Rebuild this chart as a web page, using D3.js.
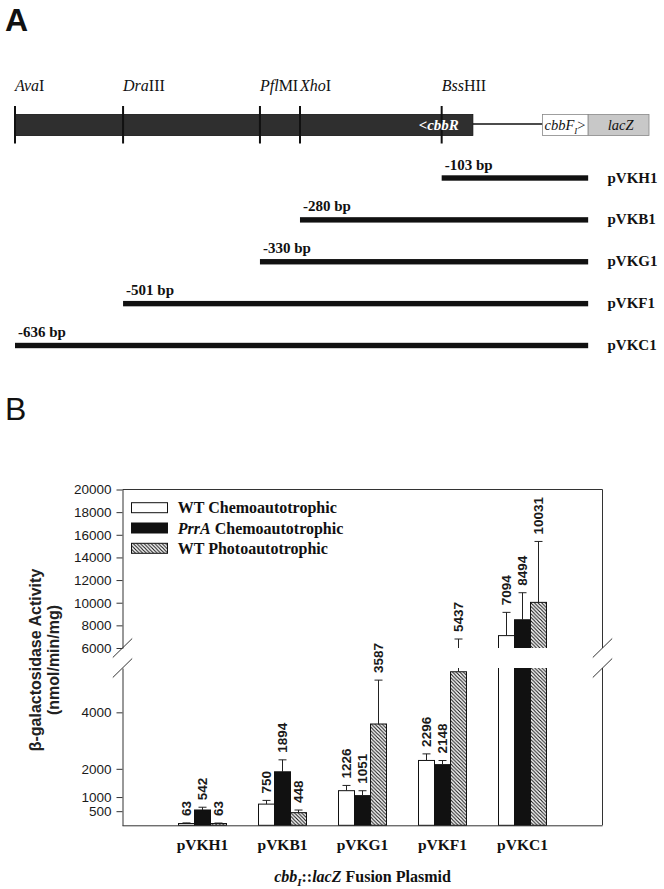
<!DOCTYPE html>
<html><head><meta charset="utf-8">
<script src="https://cdn.jsdelivr.net/npm/d3@7"></script>
<style>body{margin:0;background:#fff} svg{display:block}</style>
</head><body>
<svg id="c" width="664" height="889"></svg>
<script>
// ---------------- DATA ----------------
// Panel A: restriction map (positions in bp relative to cbbF start)
const siteItalic = ["Ava", "Dra", "Pfl", "Xho", "Bss"];
const siteRoman  = ["I", "III", "MI", "I", "HII"];
const siteBp     = [-636, -501, -330, -280, -103];
const fragNames  = ["pVKH1", "pVKB1", "pVKG1", "pVKF1", "pVKC1"];
const fragStart  = [-103, -280, -330, -501, -636];
const fragEnd    = 80;
const cbbRSpan   = [-636, -64];
const cbbFSpan   = [23, 80];
const lacZSpan   = [80, 156];

// Panel B: beta-galactosidase activity
const plasmids   = ["pVKH1", "pVKB1", "pVKG1", "pVKF1", "pVKC1"];
const seriesKeys = ["wt", "prrA", "photo"];
const wtChemo    = [63, 750, 1226, 2296, 7094];
const prrAChemo  = [542, 1894, 1051, 2148, 8494];
const wtPhoto    = [63, 448, 3587, 5437, 10031];
// upper end of the error bars
const wtChemoErr   = [85, 882, 1412, 2529, 9147];
const prrAChemoErr = [640, 2318, 1224, 2294, 10882];
const wtPhotoErr   = [80, 541, 5141, 6794, 15412];
const lowerTicks = [500, 1000, 2000, 4000];
const upperTicks = [6000, 8000, 10000, 12000, 14000, 16000, 18000, 20000];
const lowerDomain = [0, 5570];
const upperDomain = [6000, 20000];

// ---------------- DRAW ----------------
const svg = d3.select("#c");
const SERIF = "'Liberation Serif','Times New Roman',serif";
const SANS = "'Liberation Sans',Arial,sans-serif";
const INK = "#111";

// hatch pattern
const defs = svg.append("defs");
const pat = defs.append("pattern").attr("id", "hatch").attr("patternUnits", "userSpaceOnUse")
  .attr("width", 3.6).attr("height", 3.6);
pat.append("rect").attr("width", 3.6).attr("height", 3.6).attr("fill", "#fff");
pat.append("path").attr("d", "M-1,-1 L4.6,4.6 M-1,2.6 L1,4.6 M2.6,-1 L4.6,1")
  .attr("stroke", "#111").attr("stroke-width", 1.1);

// ===== Panel A =====
svg.append("text").attr("x", 5).attr("y", 31).attr("font-family", SANS).attr("font-weight", "bold")
  .attr("font-size", 32).attr("fill", INK).text("A");

const mx = d3.scaleLinear().domain([-636, 156]).range([15, 649]);
const barTop = 114.5, barBot = 135.5, barMid = (barTop + barBot) / 2;

// cbbR dark bar
svg.append("rect").attr("x", mx(cbbRSpan[0])).attr("y", barTop)
  .attr("width", mx(cbbRSpan[1]) - mx(cbbRSpan[0])).attr("height", barBot - barTop)
  .attr("fill", "#2f2f2f").attr("stroke", "#111").attr("stroke-width", 0.8);
// connecting line
svg.append("line").attr("x1", mx(cbbRSpan[1])).attr("x2", mx(cbbFSpan[0]))
  .attr("y1", barMid - 1).attr("y2", barMid - 1).attr("stroke", INK).attr("stroke-width", 1.6);
// cbbF and lacZ boxes
svg.append("rect").attr("x", mx(cbbFSpan[0])).attr("y", barTop)
  .attr("width", mx(cbbFSpan[1]) - mx(cbbFSpan[0])).attr("height", barBot - barTop)
  .attr("fill", "#fff").attr("stroke", "#888").attr("stroke-width", 0.8);
svg.append("rect").attr("x", mx(lacZSpan[0])).attr("y", barTop)
  .attr("width", mx(lacZSpan[1]) - mx(lacZSpan[0])).attr("height", barBot - barTop)
  .attr("fill", "#c8c8c8").attr("stroke", "#888").attr("stroke-width", 0.8);

// ticks & site labels
siteBp.forEach((bp, i) => {
  svg.append("line").attr("x1", mx(bp)).attr("x2", mx(bp)).attr("y1", 106).attr("y2", 143.5)
    .attr("stroke", INK).attr("stroke-width", 2);
  const t = svg.append("text").attr("x", mx(bp)).attr("y", 90.5).attr("font-family", SERIF)
    .attr("font-size", 16).attr("fill", INK);
  t.append("tspan").attr("font-style", "italic").text(siteItalic[i]);
  t.append("tspan").text(siteRoman[i]);
});

// gene labels
svg.append("text").attr("x", mx(cbbRSpan[1]) - 14).attr("y", 130).attr("text-anchor", "end")
  .attr("font-family", SERIF).attr("font-size", 15).attr("font-style", "italic").attr("font-weight", "bold")
  .attr("fill", "#fff").text("<cbbR");
const tf = svg.append("text").attr("x", mx(cbbFSpan[0]) + 2).attr("y", 130)
  .attr("font-family", SERIF).attr("font-size", 14.5).attr("fill", INK);
tf.append("tspan").attr("font-style", "italic").text("cbbF");
tf.append("tspan").attr("font-style", "italic").attr("font-size", 9).attr("dy", 4).text("I");
tf.append("tspan").attr("dy", -4).text(">");
svg.append("text").attr("x", (mx(lacZSpan[0]) + mx(lacZSpan[1])) / 2 + 2).attr("y", 130)
  .attr("text-anchor", "middle").attr("font-family", SERIF).attr("font-size", 14.5)
  .attr("font-style", "italic").attr("fill", INK).text("lacZ");

// deletion fragments
const fy = d3.scalePoint().domain(fragNames).range([178, 345.5]);
fragNames.forEach((n, i) => {
  const y = fy(n);
  svg.append("rect").attr("x", mx(fragStart[i])).attr("y", y - 2.7)
    .attr("width", mx(fragEnd) - mx(fragStart[i])).attr("height", 5.4).attr("fill", INK);
  svg.append("text").attr("x", mx(fragStart[i]) + 3).attr("y", y - 8.5)
    .attr("font-family", SERIF).attr("font-weight", "bold").attr("font-size", 15).attr("fill", INK)
    .text(fragStart[i] + " bp");
  svg.append("text").attr("x", 607.5).attr("y", y + 4.5)
    .attr("font-family", SERIF).attr("font-weight", "bold").attr("font-size", 15).attr("fill", INK)
    .text(n);
});

// ===== Panel B =====
svg.append("text").attr("x", 5).attr("y", 420).attr("font-family", SANS)
  .attr("font-size", 32).attr("fill", INK).text("B");

const L = 122.5, R = 602.5;
const yLow = d3.scaleLinear().domain(lowerDomain).range([825.3, 668]);
const yUp = d3.scaleLinear().domain(upperDomain).range([648, 489.5]);
const x0 = d3.scaleBand().domain(plasmids).range([L, R]).paddingInner(0.4).paddingOuter(0.7);
const x1 = d3.scaleBand().domain(seriesKeys).range([0, x0.bandwidth()]);

const vals = { wt: wtChemo, prrA: prrAChemo, photo: wtPhoto };
const errs = { wt: wtChemoErr, prrA: prrAChemoErr, photo: wtPhotoErr };
const fills = { wt: "#fff", prrA: "#111", photo: "url(#hatch)" };

defs.append("clipPath").attr("id", "clipLow").append("rect")
  .attr("x", L - 1).attr("y", yLow.range()[1]).attr("width", R - L + 2).attr("height", yLow.range()[0] - yLow.range()[1] + 1);
defs.append("clipPath").attr("id", "clipUp").append("rect")
  .attr("x", L - 1).attr("y", yUp.range()[1] - 30).attr("width", R - L + 2).attr("height", yUp.range()[0] - yUp.range()[1] + 30);

const rows = [];
plasmids.forEach((p, i) => seriesKeys.forEach(k => rows.push({ p, k, v: vals[k][i], e: errs[k][i] })));

function drawSegment(clipId, y, base) {
  const g = svg.append("g").attr("clip-path", `url(#${clipId})`);
  const bw = x1.bandwidth();
  rows.forEach(d => {
    if (d.v <= y.domain()[0] && base > 0) return;
    const bx = x0(d.p) + x1(d.k);
    const yb = base > 0 ? y(base) : y(0);
    g.append("rect").attr("x", bx).attr("y", y(d.v)).attr("width", bw)
      .attr("height", Math.max(0, yb - y(d.v))).attr("fill", fills[d.k])
      .attr("stroke", INK).attr("stroke-width", 1);
  });
  rows.forEach(d => {
    const cx = x0(d.p) + x1(d.k) + bw / 2;
    const ev = y(Math.max(d.v, base));
    g.append("line").attr("x1", cx).attr("x2", cx).attr("y1", y(d.v)).attr("y2", y(d.e))
      .attr("stroke", "#222").attr("stroke-width", 1);
    g.append("line").attr("x1", cx - 4).attr("x2", cx + 4).attr("y1", y(d.e)).attr("y2", y(d.e))
      .attr("stroke", "#222").attr("stroke-width", 1);
  });
}
drawSegment("clipLow", yLow, 0);
drawSegment("clipUp", yUp, 5000);

// value labels
const bw = x1.bandwidth();
rows.forEach(d => {
  const cx = x0(d.p) + x1(d.k) + bw / 2;
  const ye = d.e > lowerDomain[1] ? yUp(d.e) : yLow(d.e);
  svg.append("text").attr("transform", `translate(${cx + 4.5},${ye - 7}) rotate(-90)`)
    .attr("font-family", SANS).attr("font-weight", "bold").attr("font-size", 13.5)
    .attr("fill", "#1a1a1a").text(d.v);
});

// axes
const axL = svg.append("g").attr("transform", `translate(${L},0)`)
  .call(d3.axisLeft(yLow).tickValues(lowerTicks).tickSize(6).tickSizeOuter(0).tickPadding(5).tickFormat(d3.format("d")));
const axU = svg.append("g").attr("transform", `translate(${L},0)`)
  .call(d3.axisLeft(yUp).tickValues(upperTicks).tickSize(6).tickSizeOuter(0).tickPadding(5).tickFormat(d3.format("d")));
[axL, axU].forEach(a => {
  a.selectAll("text").attr("font-family", SANS).attr("font-size", 13.5).attr("fill", "#1a1a1a");
  a.selectAll("path,line").attr("stroke", "#333");
});
// right frame + top
svg.append("line").attr("x1", R).attr("x2", R).attr("y1", yLow.range()[0]).attr("y2", yLow.range()[1]).attr("stroke", "#333");
svg.append("line").attr("x1", R).attr("x2", R).attr("y1", yUp.range()[0]).attr("y2", yUp.range()[1]).attr("stroke", "#333");
svg.append("line").attr("x1", L).attr("x2", R).attr("y1", yUp.range()[1]).attr("y2", yUp.range()[1]).attr("stroke", "#333");

// x axis
const axB = svg.append("g").attr("transform", `translate(0,${yLow(0)})`)
  .call(d3.axisBottom(x0).tickSize(0).tickSizeOuter(0));
axB.select("path").attr("stroke", "#333").attr("d", `M${L},0.5H${R}`);
axB.selectAll("text").attr("y", 25).attr("dy", 0).attr("font-family", SERIF).attr("font-weight", "bold")
  .attr("font-size", 15.5).attr("fill", INK);

// break marks
[L, R].forEach(xx => {
  [yUp(upperDomain[0]), yLow(lowerDomain[1])].forEach(yy => {
    svg.append("line").attr("x1", xx - 9.7).attr("y1", yy + 9.5).attr("x2", xx + 9.7).attr("y2", yy - 9.5)
      .attr("stroke", "#333").attr("stroke-width", 1);
  });
});

// axis titles
const yt = svg.append("text").attr("transform", "translate(41,660) rotate(-90)").attr("text-anchor", "middle")
  .attr("font-family", SANS).attr("font-weight", "bold").attr("font-size", 16).attr("fill", "#222");
yt.append("tspan").attr("x", 0).attr("y", 0).text("β-galactosidase Activity");
yt.append("tspan").attr("x", 0).attr("y", 18).text("(nmol/min/mg)");

const xt = svg.append("text").attr("x", (L + R) / 2).attr("y", 881.5).attr("text-anchor", "middle")
  .attr("font-family", SERIF).attr("font-weight", "bold").attr("font-size", 16).attr("fill", INK);
xt.append("tspan").attr("font-style", "italic").text("cbb");
xt.append("tspan").attr("font-style", "italic").attr("font-size", 11).attr("dy", 4).text("I");
xt.append("tspan").attr("dy", -4).text("::");
xt.append("tspan").attr("font-style", "italic").text("lacZ");
xt.append("tspan").text(" Fusion Plasmid");

// legend
const legY = d3.scalePoint().domain(seriesKeys).range([507.7, 548.3]);
seriesKeys.forEach(k => {
  const y = legY(k);
  svg.append("rect").attr("x", 131.5).attr("y", y - 5).attr("width", 36).attr("height", 10)
    .attr("fill", fills[k]).attr("stroke", INK).attr("stroke-width", 1);
  const t = svg.append("text").attr("x", 177.8).attr("y", y + 5.5).attr("font-family", SERIF)
    .attr("font-weight", "bold").attr("font-size", 16).attr("fill", INK);
  if (k === "wt") t.text("WT Chemoautotrophic");
  if (k === "prrA") { t.append("tspan").attr("font-style", "italic").text("PrrA"); t.append("tspan").text(" Chemoautotrophic"); }
  if (k === "photo") t.text("WT Photoautotrophic");
});
</script>
</body></html>
